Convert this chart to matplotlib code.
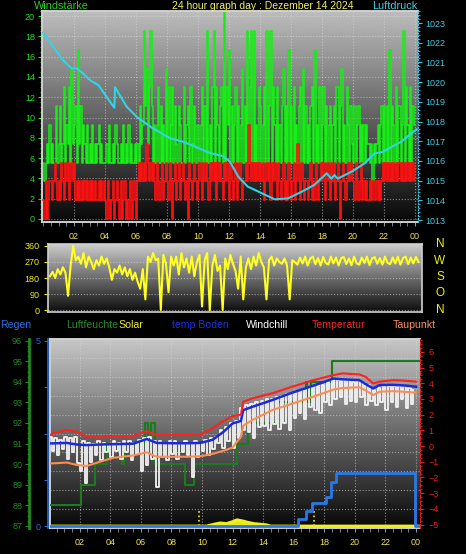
import matplotlib
matplotlib.use('Agg')
import matplotlib.pyplot as plt
from matplotlib.ticker import MultipleLocator, FixedLocator, NullFormatter
import numpy as np

# wind, knots, one value per 5 minutes (shown in km/h)
gust_kn = [
    3, 2, 3, 4, 3, 5, 3, 4, 3, 3, 6, 3,
    4, 6, 3, 4, 7, 3, 5, 4, 7, 3, 8, 4,
    5, 6, 3, 9, 4, 6, 3, 5, 4, 3, 5, 3,
    4, 3, 5, 3, 4, 3, 4, 5, 3, 4, 3, 3,
    3, 4, 3, 5, 3, 3, 4, 3, 5, 4, 3, 3,
    4, 3, 5, 3, 4, 3, 5, 3, 4, 3, 3, 4,
    3, 4, 3, 6, 4, 5, 10, 6, 8, 4, 7, 10,
    6, 3, 5, 3, 5, 7, 3, 6, 3, 5, 3, 8,
    3, 7, 3, 5, 7, 3, 6, 4, 3, 6, 5, 3,
    3, 7, 3, 5, 6, 3, 7, 3, 4, 6, 3, 5,
    5, 3, 5, 7, 3, 6, 3, 10, 3, 5, 3, 7,
    10, 3, 7, 5, 3, 6, 7, 3, 11, 3, 7, 5,
    9, 3, 6, 3, 5, 7, 3, 6, 3, 5, 8, 3,
    6, 3, 10, 3, 7, 10, 3, 10, 3, 5, 3, 7,
    6, 3, 5, 7, 3, 10, 3, 6, 10, 3, 7, 5,
    3, 7, 3, 5, 3, 6, 8, 3, 6, 3, 9, 3,
    6, 3, 7, 3, 5, 3, 6, 7, 3, 8, 3, 6,
    3, 5, 3, 6, 7, 3, 9, 3, 5, 3, 7, 3,
    5, 7, 3, 6, 3, 5, 6, 3, 5, 6, 3, 7,
    7, 3, 6, 8, 3, 5, 3, 7, 5, 3, 6, 4,
    3, 6, 3, 5, 6, 3, 5, 3, 5, 3, 5, 4,
    4, 3, 4, 2, 4, 3, 4, 5, 3, 5, 6, 3,
    6, 3, 6, 3, 9, 3, 6, 5, 3, 7, 3, 6,
    6, 3, 5, 10, 3, 7, 5, 3, 7, 3, 6, 5,
]
wind_kn = [
    1, 0, 2, 0, 1, 2, 2, 1, 2, 3, 2, 1,
    2, 1, 3, 2, 1, 3, 2, 3, 1, 2, 3, 2,
    3, 1, 2, 1, 2, 1, 2, 1, 2, 1, 2, 1,
    2, 1, 2, 1, 2, 1, 1, 2, 1, 2, 1, 2,
    1, 0, 2, 1, 0, 1, 2, 0, 1, 2, 1, 0,
    2, 0, 1, 2, 0, 1, 0, 2, 1, 0, 2, 1,
    0, 2, 3, 2, 3, 2, 3, 2, 4, 3, 2, 3,
    2, 3, 2, 1, 3, 2, 1, 2, 3, 1, 2, 3,
    2, 1, 3, 2, 0, 2, 3, 1, 2, 3, 1, 2,
    3, 2, 1, 2, 0, 3, 2, 1, 2, 3, 2, 1,
    2, 3, 2, 1, 3, 2, 3, 2, 1, 3, 2, 3,
    2, 3, 1, 3, 2, 3, 2, 1, 3, 2, 3, 2,
    1, 3, 2, 1, 2, 3, 1, 2, 3, 2, 1, 2,
    2, 3, 2, 5, 3, 2, 3, 2, 3, 2, 3, 2,
    3, 2, 3, 1, 2, 3, 2, 3, 1, 3, 2, 3,
    2, 1, 3, 2, 1, 2, 3, 1, 2, 1, 3, 2,
    1, 2, 3, 1, 2, 4, 2, 1, 3, 2, 1, 2,
    2, 1, 2, 3, 1, 2, 1, 3, 2, 1, 2, 3,
    2, 3, 1, 2, 3, 2, 1, 3, 2, 3, 1, 2,
    3, 2, 0, 2, 3, 2, 1, 2, 3, 2, 3, 2,
    2, 1, 3, 2, 1, 2, 3, 1, 2, 1, 2, 1,
    1, 2, 1, 2, 1, 1, 2, 1, 2, 1, 2, 3,
    2, 3, 2, 3, 2, 3, 2, 3, 2, 3, 2, 3,
    3, 2, 3, 2, 3, 2, 3, 2, 3, 2, 3, 2,
]
KMH_PER_KN = 1.852

pressure_hours = [0, 0.66, 1.3, 1.85, 2.17, 2.5, 3.03, 3.57, 4.1, 4.6, 4.65, 5.4,
                  6.1, 7.1, 8.2, 9.05, 9.9, 10.77, 11.6, 12.06, 12.6, 13.2, 13.9,
                  14.95, 15.8, 16.7, 17.5, 18.3, 18.6, 18.8, 19.0, 19.9, 20.75,
                  21.4, 21.9, 22.5, 23.1, 23.76, 24.1]
pressure = [1022.5, 1021.8, 1021.1, 1020.7, 1020.7, 1020.5, 1020.1, 1019.85, 1019.26,
            1018.7, 1019.74, 1018.75, 1018.2, 1017.65, 1017.15, 1016.97, 1016.7,
            1016.4, 1016.25, 1015.96, 1015.2, 1014.7, 1014.44, 1014.05, 1014.1,
            1014.44, 1014.78, 1015.37, 1015.1, 1015.28, 1015.1, 1015.45, 1015.88,
            1016.39, 1016.45, 1016.72, 1016.97, 1017.4, 1017.6]

# wind direction, degrees, one value per 10 minutes
direction = [
    190, 215, 180, 230, 200, 240,
    210, 80, 250, 360, 280, 300,
    260, 320, 240, 300, 270, 230,
    280, 250, 300, 260, 290, 240,
    170, 230, 210, 250, 200, 240,
    190, 230, 170, 210, 160, 120,
    230, 60, 300, 270, 320, 280,
    290, 0, 310, 260, 100, 300,
    250, 300, 200, 320, 240, 290,
    210, 300, 190, 270, 310, 20,
    280, 320, 0, 250, 310, 220,
    250, 0, 290, 230, 310, 260,
    220, 120, 300, 60, 240, 290,
    230, 300, 250, 320, 270, 240,
    60, 280, 300, 250, 290, 270,
    260, 290, 250, 60, 280, 270,
    255, 295, 262, 300, 250, 290,
    300, 258, 292, 250, 298, 265,
    255, 300, 262, 295, 250, 292,
    298, 258, 290, 252, 300, 262,
    255, 295, 265, 300, 252, 290,
    298, 260, 292, 255, 300, 265,
    258, 296, 262, 300, 255, 292,
    300, 258, 295, 262, 298, 270,
]
compass = ['N', 'W', 'S', 'O', 'N']

curve_hours = [0.05, 0.28, 1.16, 1.81, 2.46, 3.33, 4.18, 5.5, 6.39, 7.04, 8.1, 9.0,
               9.9, 10.7, 11.4, 12.0, 12.55, 12.7, 13.3, 14.6, 15.9, 17.3, 18.6,
               19.2, 20.3, 20.7, 21.2, 21.6, 22.5, 23.35, 24.0]
temperature = [0.7, 0.81, 1.02, 0.91, 0.6, 0.55, 0.64, 0.64, 0.95, 0.7, 0.7, 0.7,
               0.72, 1.13, 1.6, 1.9, 2.0, 2.82, 3.04, 3.36, 3.78, 4.2, 4.52, 4.63,
               4.56, 4.41, 3.99, 4.1, 4.2, 4.16, 4.1]
soil_temp = [0.17, 0.17, 0.2, 0.1, 0.06, 0.1, 0.12, 0.15, 0.45, 0.2, 0.18, 0.18,
             0.2, 0.4, 0.9, 1.44, 1.6, 2.29, 2.5, 2.93, 3.4, 3.85, 4.3, 4.25,
             4.2, 3.95, 3.67, 3.89, 3.9, 3.85, 3.78]
dewpoint = [-1.1, -1.1, -1.05, -1.2, -1.27, -1.0, -0.75, -0.6, -0.4, -0.68, -0.68,
            -0.68, -0.65, -0.5, -0.3, -0.1, 0.6, 1.3, 1.66, 2.29, 2.7, 3.15, 3.6,
            3.7, 3.75, 3.55, 3.25, 3.46, 3.5, 3.45, 3.4]
# windchill, one value per 10 minutes
windchill = [
    0.6, -0.3, 0.5, -0.6, 0.4, -0.2,
    0.6, -0.8, 0.5, -0.4, 0.6, -1.1,
    -1.6, 0.3, -2.35, 0.2, -1.0, 0.1,
    -0.6, 0.3, -0.9, 0.2, -0.4, 0.1,
    -0.7, 0.3, -0.3, 0.2, -0.8, 0.3,
    -0.4, 0.3, -0.9, 0.2, -0.5, 0.4,
    -1.6, 0.5, -1.2, 0.6, -0.8, 0.3,
    -2.6, 0.3, -0.7, 0.2, -0.9, 0.3,
    -0.5, 0.3, -0.8, 0.2, -0.4, 0.3,
    -0.6, 0.2, -1.95, 0.3, -0.7, 0.2,
    -0.3, 0.4, -0.6, 0.5, -0.2, 0.6,
    0.2, 1.0, -0.1, 1.2, 0.3, 1.5,
    -0.1, 1.6, 0.5, 2.4, 1.0, 2.6,
    0.9, 2.7, 0.5, 2.8, 1.2, 2.9,
    1.3, 3.0, 1.0, 3.0, 1.4, 3.1,
    1.1, 3.2, 1.5, 3.3, 1.0, 3.4,
    1.8, 3.5, 2.1, 3.6, 1.7, 3.7,
    2.5, 3.8, 2.3, 3.9, 2.1, 3.9,
    2.8, 4.1, 2.6, 4.2, 3.0, 4.2,
    3.1, 4.2, 2.7, 4.2, 2.9, 4.1,
    2.8, 4.2, 3.1, 4.0, 2.6, 3.9,
    2.9, 3.6, 2.6, 3.7, 2.8, 3.8,
    2.3, 3.8, 2.8, 3.8, 2.5, 3.8,
    3.0, 3.8, 2.4, 3.7, 2.7, 3.6,
]
humidity_hours = [0, 2.1, 3.0, 3.77, 4.75, 4.9, 6.3, 6.5, 6.7, 6.9, 8.9, 9.5, 12.3,
                  13.0, 15.0, 16.8, 16.9, 17.1, 18.5, 24.3]
humidity = [88, 89, 90, 91, 90, 91, 92, 91, 92, 90, 89, 90, 91, 92, 93, 94, 93, 94,
            95, 95]
rain_hours = [0, 16.25, 16.8, 17.2, 18.1, 18.45, 18.75, 23.95, 24.3]
rain = [0, 0.2, 0.41, 0.61, 0.79, 1.2, 1.42, 0, 0]
solar_hours = [0, 10.3, 10.8, 11.2, 11.6, 12.0, 12.3, 12.7, 13.0, 13.4, 13.8, 14.2,
               14.5, 24.3]
solar = [0, 0, 3, 5, 4, 7, 10, 8, 6, 4, 3, 2, 0, 0]
solar_peak_hours = [9.8, 17.3]
solar_peak = [26, 26]

hour_ticks = list(range(2, 25, 2))
hour_labels = ['%02d' % (h % 24) for h in hour_ticks]

plt.rcParams['font.family'] = ['Liberation Sans', 'DejaVu Sans']

W, H = 466, 554
YEL = '#f0e650'


def box(x0, y0, x1, y1):
    return [x0 / W, 1 - y1 / H, (x1 - x0) / W, (y1 - y0) / H]


def gradient(ax, top, bottom):
    grad = np.linspace(bottom, top, 256).reshape(-1, 1)
    ax.imshow(grad, extent=[0, 1, 0, 1], transform=ax.transAxes, origin='lower',
              cmap='gray', vmin=0, vmax=1, aspect='auto', zorder=0)


def hour_axis(ax):
    ax.set_xticks(hour_ticks)
    ax.set_xticklabels(hour_labels)
    ax.xaxis.set_minor_locator(MultipleLocator(0.5))
    ax.tick_params(axis='x', which='both', colors='#909090', labelcolor=YEL,
                   labelsize=6.5, length=3, pad=4)


fig = plt.figure(figsize=(W / 100, H / 100), dpi=100, facecolor='black')

# ---- wind speed and pressure
ax1 = fig.add_axes(box(42, 11, 418, 222))
gradient(ax1, 0.74, 0.03)
t5 = np.arange(len(gust_kn) + 1) / 12
ax1.plot(t5, np.array(gust_kn + gust_kn[-1:]) * KMH_PER_KN, drawstyle='steps-post',
         color='#14f014', lw=1.1, zorder=2)
ax1.plot(t5, np.array(wind_kn + wind_kn[-1:]) * KMH_PER_KN, drawstyle='steps-post',
         color='#ff1010', lw=1.2, zorder=3)
ax1.set_xlim(-0.065, 24.19)
ax1.set_ylim(-0.3, 20.5)
ax1.set_yticks(range(0, 21, 2))
ax1.yaxis.set_minor_locator(MultipleLocator(0.5))
ax1.tick_params(axis='y', which='both', colors='#20e020', labelsize=6.5, length=3, pad=2)
ax1.tick_params(axis='y', which='minor', length=1.5)
hour_axis(ax1)
ax1.grid(True, which='major', color='#d8d8d8', ls=':', lw=0.8, alpha=0.6)
for s in ['left', 'bottom', 'top']:
    ax1.spines[s].set_color('#d0d0d0')
    ax1.spines[s].set_linewidth(1.4)
ax1.spines['right'].set_visible(False)

ax1p = ax1.twinx()
ax1p.plot(pressure_hours, pressure, color='#30d4e4', lw=1.5)
ax1p.set_ylim(1012.9, 1023.61)
ax1p.set_yticks(range(1013, 1024))
ax1p.yaxis.set_minor_locator(MultipleLocator(0.2))
ax1p.tick_params(axis='y', which='both', colors='#40c8e0', labelsize=6.5, length=3, pad=2)
ax1p.tick_params(axis='y', which='minor', length=1.5)
for s in ['left', 'bottom', 'top']:
    ax1p.spines[s].set_visible(False)
ax1p.spines['right'].set_color('#40c8e0')
ax1p.spines['right'].set_linestyle(':')

# ---- wind direction
ax2 = fig.add_axes(box(48, 244, 422, 312))
gradient(ax2, 0.8, 0.05)
t10 = np.arange(len(direction)) / 6
ax2.plot(t10, direction, color='#ffff20', lw=1.5, zorder=2)
ax2.set_xlim(-0.13, 24.06)
ax2.set_ylim(-11, 371)
ax2.set_yticks([0, 90, 180, 270, 360])
ax2.set_xticks([])
ax2.tick_params(axis='y', colors='#f0f000', labelsize=6.5, length=3, pad=3)
ax2.grid(True, axis='y', color='#d8d8d8', ls=':', lw=0.8, alpha=0.6)
for s in ax2.spines.values():
    s.set_color('#d0d0d0')
    s.set_linewidth(1.2)
for i, c in enumerate(compass):
    fig.text(440 / W, 1 - (244 + i * 16.5) / H, c, color='#f0f000', fontsize=8.5,
             ha='center', va='center')

# ---- temperatures, humidity, rain, solar
ax3 = fig.add_axes(box(50, 339, 420, 528))
gradient(ax3, 0.78, 0.03)
ax3.set_xlim(0.065, 24.26)
ax3.set_ylim(0, 10)
ax3.yaxis.set_major_locator(FixedLocator(range(11)))
ax3.yaxis.set_major_formatter(NullFormatter())
ax3.tick_params(axis='y', length=0)
hour_axis(ax3)
ax3.grid(True, which='major', color='#d8d8d8', ls=':', lw=0.8, alpha=0.6)
for s in ['left', 'bottom', 'top']:
    ax3.spines[s].set_color('#d0d0d0')
    ax3.spines[s].set_linewidth(1.4)
ax3.spines['right'].set_visible(False)

ax_sol = ax3.twinx()
ax_sol.fill_between(solar_hours, 0, solar, color='#e8e820', lw=0)
ax_sol.plot(solar_hours, solar, color='#f0f020', lw=2.2)
ax_sol.vlines(solar_peak_hours, 0, solar_peak, color='#f0f020', lw=1.2, linestyles=':')
ax_sol.set_ylim(-3, 300)
ax_sol.axis('off')

ax_hum = ax3.twinx()
ax_hum.plot(humidity_hours, humidity, drawstyle='steps-post', color='#1e7a1e', lw=1.5)
ax_hum.set_ylim(86.9, 96.08)
ax_hum.yaxis.set_ticks_position('left')
ax_hum.spines['left'].set_position(('outward', 15))
ax_hum.spines['left'].set_color('#1e8a1e')
ax_hum.spines['left'].set_linewidth(2)
for s in ['right', 'top', 'bottom']:
    ax_hum.spines[s].set_visible(False)
ax_hum.set_yticks(range(87, 97))
ax_hum.yaxis.set_minor_locator(MultipleLocator(0.25))
ax_hum.tick_params(axis='y', which='both', colors='#1e8a1e', labelsize=6.5, length=3, pad=2)
ax_hum.tick_params(axis='y', which='minor', length=1.5)

ax_rain = ax3.twinx()
ax_rain.plot(rain_hours, rain, drawstyle='steps-post', color='#2a78e8', lw=2)
ax_rain.set_ylim(-0.054, 5.054)
ax_rain.yaxis.set_ticks_position('left')
ax_rain.spines['left'].set_position(('outward', 1.5))
ax_rain.spines['left'].set_color('#2a6ad0')
ax_rain.spines['left'].set_linewidth(1.2)
for s in ['right', 'top', 'bottom']:
    ax_rain.spines[s].set_visible(False)
ax_rain.set_yticks([0, 1.25, 2.5, 3.75, 5])
ax_rain.set_yticklabels(['0', '', '', '', '5'])
ax_rain.tick_params(axis='y', colors='#2a6ad0', labelsize=6.5, length=3, pad=2)

ax_t = ax3.twinx()
ax_t.plot(np.arange(len(windchill)) / 6, windchill, drawstyle='steps-post',
          color='#f4f4f4', lw=1.3)
ax_t.plot(curve_hours, dewpoint, color='#ff8c50', lw=1.5)
ax_t.plot(curve_hours, soil_temp, color='#1a28e0', lw=1.8)
ax_t.plot(curve_hours, temperature, color='#ff2020', lw=1.5)
ax_t.set_ylim(-5.22, 6.82)
ax_t.set_yticks(range(-5, 7))
ax_t.yaxis.set_minor_locator(MultipleLocator(0.25))
ax_t.tick_params(axis='y', which='both', colors='#e02020', labelsize=6.5, length=3, pad=3)
ax_t.tick_params(axis='y', which='minor', length=1.5)
for s in ['left', 'top', 'bottom']:
    ax_t.spines[s].set_visible(False)
ax_t.spines['right'].set_color('#e02020')
ax_t.spines['right'].set_linestyle('--')

# ---- header and legend texts
fig.text(34 / W, 1 - 6 / H, 'Windstärke', color='#20d020', fontsize=7.8, va='center')
fig.text(172 / W, 1 - 6 / H, '24 hour graph day : Dezember 14 2024', color='#f0f060',
         fontsize=7.5, va='center')
fig.text(372 / W, 1 - 6 / H, 'Luftdruck', color='#40d0e0', fontsize=7.8, va='center')

legend = [('Regen', 0, '#2a70e0'), ('Luftfeuchte', 66, '#2a8a2a'), ('Solar', 118, '#f0f020'),
          ('temp Boden', 172, '#2030e0'), ('Windchill', 246, '#ffffff'),
          ('Temperatur', 312, '#ff2020'), ('Taupunkt', 393, '#ff9060')]
for name, x, col in legend:
    fig.text(x / W, 1 - 325 / H, name, color=col, fontsize=7.6, va='center')

fig.savefig('out.png', dpi=100, facecolor='black')
